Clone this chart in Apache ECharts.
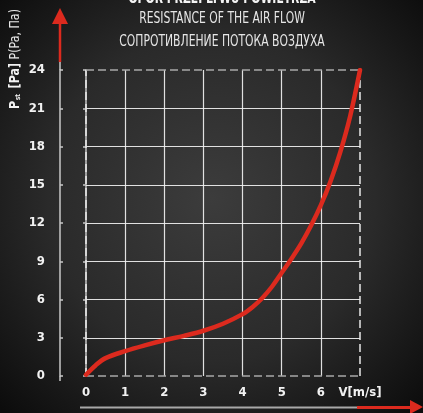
<!DOCTYPE html>
<html>
<head>
<meta charset="utf-8">
<script src="https://cdn.jsdelivr.net/npm/echarts@6/dist/echarts.min.js"></script>
<style>
  html, body { margin: 0; padding: 0; background: #111; }
  #chart { width: 423px; height: 413px; }
</style>
</head>
<body>
<div id="chart"></div>
<script>
// Air flow resistance curve: static pressure vs. air velocity
const velocity = [0, 0.25, 0.5, 1, 1.5, 2, 2.5, 3, 3.5, 4, 4.25, 4.5, 4.75, 5, 5.25, 5.5, 5.75, 6, 6.25, 6.5, 6.75, 7];
const pressure = [0.1, 0.85, 1.4, 1.95, 2.4, 2.8, 3.15, 3.55, 4.1, 4.85, 5.4, 6.1, 7.0, 8.1, 9.2, 10.4, 11.8, 13.4, 15.3, 17.6, 20.4, 24];

const xTicks = [0, 1, 2, 3, 4, 5, 6, 7];
const yTicks = [0, 3, 6, 9, 12, 15, 18, 21, 24];
const xUnitLabel = 'V[m/s]';

const titleLines = ['OPÓR PRZEPŁYWU POWIETRZA', 'RESISTANCE OF THE AIR FLOW', 'СОПРОТИВЛЕНИЕ ПОТОКА ВОЗДУХА'];

const FONT = '"DejaVu Sans Condensed", "Liberation Sans Narrow", sans-serif';
const RED = '#dc2a1e';

const points = velocity.map((v, i) => [v, pressure[i]]);

// grid lines: solid inside, dashed on the frame
const innerX = xTicks.slice(1, -1).map(v => ({ xAxis: v }));
const innerY = yTicks.slice(1, -1).map(v => ({ yAxis: v }));
const frame = [
  { xAxis: xTicks[0], lineStyle: { color: '#e8e8e8' } },
  { xAxis: xTicks[xTicks.length - 1], lineStyle: { color: '#e8e8e8' } },
  { yAxis: yTicks[0], lineStyle: { color: '#a8a8a8' } },
  { yAxis: yTicks[yTicks.length - 1], lineStyle: { color: '#a8a8a8' } }
];

const chart = echarts.init(document.getElementById('chart'));

const yAxisBase = {
  type: 'value',
  min: 0, max: 24, interval: 3,
  offset: 26,
  splitLine: { show: false },
  axisLine: { show: true, lineStyle: { color: '#c8c8c8', width: 1.5 } }
};

// condensed heading line
function heading(text, y, bold) {
  return {
    type: 'text',
    x: 222, y: y,
    scaleX: 0.8,
    style: {
      text: text,
      align: 'center',
      verticalAlign: 'middle',
      fill: bold ? '#f4f4f4' : '#e6e6e6',
      fontFamily: FONT,
      fontSize: 15,
      fontWeight: bold ? 'bold' : 'normal'
    }
  };
}

chart.setOption({
  backgroundColor: {
    type: 'radial', x: 0.5, y: 0.48, r: 0.72,
    colorStops: [
      { offset: 0, color: '#3c3c3c' },
      { offset: 0.55, color: '#2a2a2a' },
      { offset: 1, color: '#0c0c0c' }
    ]
  },
  animation: false,
  grid: { left: 86, right: 63, top: 70, bottom: 37 },
  xAxis: {
    type: 'value',
    min: 0, max: 7, interval: 1,
    splitLine: { show: false },
    axisLine: { show: false },
    axisTick: { show: false },
    axisLabel: {
      margin: 10,
      color: '#f2f2f2', fontFamily: FONT, fontSize: 13, fontWeight: 'bold',
      formatter: v => (v === xTicks[xTicks.length - 1] ? xUnitLabel : String(v))
    }
  },
  yAxis: [
    Object.assign({}, yAxisBase, {
      axisTick: { show: true, length: 3, lineStyle: { color: '#c8c8c8', width: 1.5 } },
      axisLabel: { margin: 15, color: '#f2f2f2', fontFamily: FONT, fontSize: 13, fontWeight: 'bold' }
    }),
    Object.assign({}, yAxisBase, {
      position: 'left',
      axisTick: { show: true, inside: true, length: 3, lineStyle: { color: '#c8c8c8', width: 1.5 } },
      axisLabel: { show: false }
    })
  ],
  series: [
    {
      type: 'line',
      data: [],
      silent: true,
      markLine: {
        silent: true,
        symbol: 'none',
        label: { show: false },
        lineStyle: { color: '#f4f4f4', width: 1.2, type: 'solid', opacity: 0.9 },
        data: innerX.concat(innerY)
      }
    },
    {
      type: 'line',
      data: [],
      silent: true,
      markLine: {
        silent: true,
        symbol: 'none',
        label: { show: false },
        lineStyle: { width: 1.5, type: [8, 4] },
        data: frame
      }
    },
    {
      type: 'line',
      data: points,
      smooth: 0.35,
      showSymbol: false,
      lineStyle: { color: RED, width: 4.5, cap: 'round' },
      z: 5
    }
  ],
  graphic: [
    heading(titleLines[0], -1, true),
    heading(titleLines[1], 19, false),
    heading(titleLines[2], 42, false),
    // vertical axis extensions and arrow
    { type: 'line', shape: { x1: 60, y1: 376, x2: 60, y2: 381 }, style: { stroke: '#c8c8c8', lineWidth: 1.5 } },
    { type: 'line', shape: { x1: 60, y1: 70, x2: 60, y2: 62 }, style: { stroke: '#c8c8c8', lineWidth: 1.5 } },
    { type: 'line', shape: { x1: 60, y1: 62, x2: 60, y2: 22 }, style: { stroke: RED, lineWidth: 2.5 } },
    { type: 'polygon', shape: { points: [[60, 8], [68, 24], [52, 24]] }, style: { fill: RED } },
    // horizontal rule and arrow
    { type: 'line', shape: { x1: 80, y1: 407.5, x2: 357, y2: 407.5 }, style: { stroke: '#a8a8a8', lineWidth: 2 } },
    { type: 'line', shape: { x1: 357, y1: 407.5, x2: 412, y2: 407.5 }, style: { stroke: RED, lineWidth: 3 } },
    { type: 'polygon', shape: { points: [[423, 407], [410, 400], [410, 414]] }, style: { fill: RED } },
    // vertical axis name
    {
      type: 'text',
      x: 15, y: 59,
      rotation: Math.PI / 2,
      scaleX: 0.88,
      style: {
        text: '{b|P}{s|st}{b| [Pa]}{n| P(Pa, Па)}',
        align: 'center',
        verticalAlign: 'middle',
        fill: '#f2f2f2',
        rich: {
          b: { fontFamily: FONT, fontSize: 14, fontWeight: 'bold', fill: '#f2f2f2' },
          s: { fontFamily: FONT, fontSize: 7, fontWeight: 'bold', fill: '#f2f2f2', verticalAlign: 'bottom', padding: [6, 2, 0, 1] },
          n: { fontFamily: FONT, fontSize: 14, fill: '#e6e6e6' }
        }
      }
    }
  ]
});
</script>
</body>
</html>
